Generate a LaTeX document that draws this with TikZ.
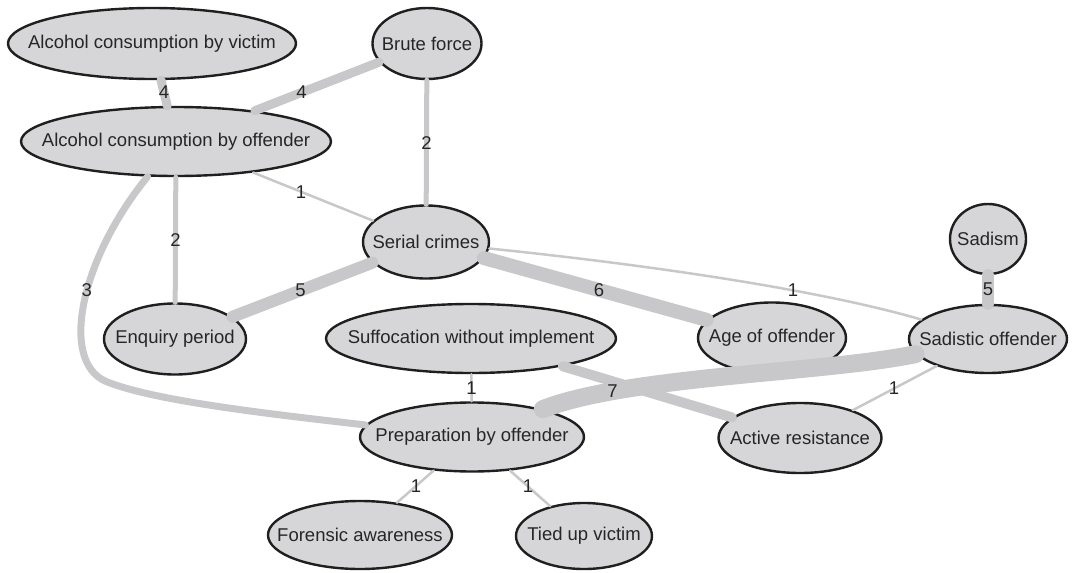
\documentclass[tikz,border=0pt]{standalone}
\usepackage{fontspec}
\setmainfont{Liberation Sans}
\usetikzlibrary{shapes.geometric,calc}
\definecolor{nodegray}{RGB}{214,214,216}
\definecolor{edgegray}{RGB}{200,200,202}
\newcommand{\ntext}[1]{\makebox[0pt]{#1}}

\begin{document}
\begin{tikzpicture}[x=1pt,y=-1pt,
    nd/.style={ellipse,draw=black!88,line width=2.4pt,fill=nodegray,inner sep=0pt,text=black!85,font=\fontsize{18.5}{22}\selectfont},
    lbl/.style={inner sep=0pt,text=black!85,font=\fontsize{18.5}{22}\selectfont},
    wt/.style={draw=edgegray,line cap=round,line width=#1}]
        \useasboundingbox (0,0) rectangle (1072,573);
        \node[nd,minimum width=288pt,minimum height=71pt] (vic) at (152,43.5) {\ntext{Alcohol consumption by victim}};
        \node[nd,minimum width=109pt,minimum height=71pt] (brute) at (427,43.5) {\ntext{Brute force}};
        \node[nd,minimum width=310pt,minimum height=69pt] (off) at (176,141.5) {\ntext{Alcohol consumption by offender}};
        \node[nd,minimum width=126pt,minimum height=73pt] (serial) at (426,242) {\ntext{Serial crimes}};
        \node[nd,minimum width=142pt,minimum height=71pt] (enq) at (175,339) {\ntext{Enquiry period}};
        \node[nd,minimum width=290pt,minimum height=69pt] (suff) at (471,338.5) {\ntext{Suffocation without implement}};
        \node[nd,minimum width=148pt,minimum height=71pt] (age) at (772,338) {\ntext{Age of offender}};
        \node[nd,minimum width=76pt,minimum height=70pt] (sadism) at (988,239) {\ntext{Sadism}};
        \node[nd,minimum width=158pt,minimum height=68pt] (sado) at (988,339) {\ntext{Sadistic offender}};
        \node[nd,minimum width=224pt,minimum height=69pt] (prep) at (472,437) {\ntext{Preparation by offender}};
        \node[nd,minimum width=163pt,minimum height=70pt] (active) at (800,438) {\ntext{Active resistance}};
        \node[nd,minimum width=184pt,minimum height=68pt] (forensic) at (360,535) {\ntext{Forensic awareness}};
        \node[nd,minimum width=136pt,minimum height=66pt] (tied) at (584,536) {\ntext{Tied up victim}};

        \draw[wt=9pt] (vic) -- (off);
        \draw[wt=9pt] (brute) -- (off);
        \draw[wt=5pt] (brute) -- (serial);
        \draw[wt=2.5pt] (off) -- (serial);
        \draw[wt=5pt] (off) -- (enq);
        \draw[wt=7pt] (off) .. controls (80,260) and (60,360) .. (105,381) node[lbl,pos=.45] {3} .. controls (150,400) and (260,413) .. (prep);
        \draw[wt=12pt] (serial) -- (enq);
        \draw[wt=14pt] (serial) -- (age);
        \draw[wt=2.5pt] (serial) .. controls (650,265) and (820,290) .. (sado) node[lbl,pos=.65] {1};
        \draw[wt=12pt] (sadism) -- (sado);
        \draw[wt=2.5pt] (suff) -- (prep);
        \draw[wt=10pt] (suff) -- (active);
        \draw[wt=18pt] (prep) .. controls (627,376) and (825,373) .. (sado) node[lbl,pos=.22] {7};
        \draw[wt=2.5pt] (sado) -- (active);
        \draw[wt=2.5pt] (prep) -- (forensic);
        \draw[wt=2.5pt] (prep) -- (tied);

        \node[lbl] at ($(vic)!.5!(off)$) {4};
        \node[lbl] at ($(brute)!.5!(off)$) {4};
        \node[lbl] at ($(brute)!.5!(serial)$) {2};
        \node[lbl] at ($(off)!.5!(serial)$) {1};
        \node[lbl] at ($(off)!.5!(enq)$) {2};
        \node[lbl] at ($(serial)!.5!(enq)$) {5};
        \node[lbl] at ($(serial)!.5!(age)$) {6};
        \node[lbl] at ($(sadism)!.5!(sado)$) {5};
        \node[lbl] at ($(suff)!.5!(prep)$) {1};
        \node[lbl] at ($(sado)!.5!(active)$) {1};
        \node[lbl] at ($(prep)!.5!(forensic)$) {1};
        \node[lbl] at ($(prep)!.5!(tied)$) {1};
    \end{tikzpicture}
\end{document}
